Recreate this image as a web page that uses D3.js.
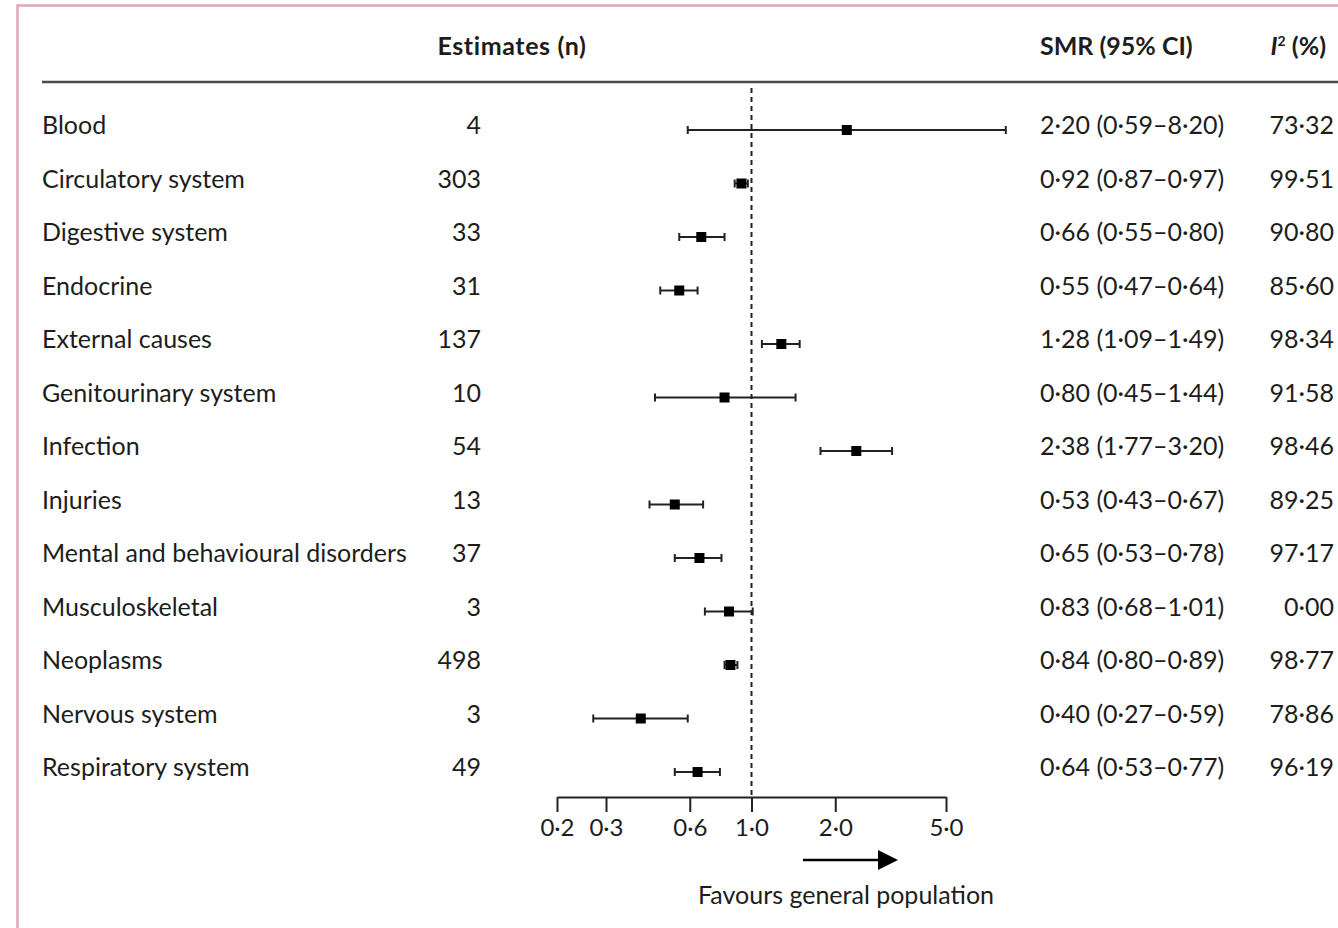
<!DOCTYPE html>
<html><head><meta charset="utf-8">
<script src="https://cdn.jsdelivr.net/npm/d3@7"></script>
<style>html,body{margin:0;padding:0;background:#fff;}svg{display:block;}</style>
</head><body>
<script>
const categories = ["Blood","Circulatory system","Digestive system","Endocrine","External causes","Genitourinary system","Infection","Injuries","Mental and behavioural disorders","Musculoskeletal","Neoplasms","Nervous system","Respiratory system"];
const estimatesN = [4,303,33,31,137,10,54,13,37,3,498,3,49];
const smr = [2.20,0.92,0.66,0.55,1.28,0.80,2.38,0.53,0.65,0.83,0.84,0.40,0.64];
const ciLow = [0.59,0.87,0.55,0.47,1.09,0.45,1.77,0.43,0.53,0.68,0.80,0.27,0.53];
const ciHigh = [8.20,0.97,0.80,0.64,1.49,1.44,3.20,0.67,0.78,1.01,0.89,0.59,0.77];
const i2 = [73.32,99.51,90.80,85.60,98.34,91.58,98.46,89.25,97.17,0.00,98.77,78.86,96.19];
const tickValues = [0.2,0.3,0.6,1.0,2.0,5.0];

const W = 1338, H = 928;
const FONT = "Lato, 'Open Sans', sans-serif";
const ink = "#1d1d1b";
const fmt = v => v.toFixed(2).replace(".", "\u00B7");
const fmt1 = v => v.toFixed(1).replace(".", "\u00B7");

const svg = d3.select("body").append("svg").attr("width", W).attr("height", H);

// frame
svg.append("path").attr("d", `M17.5,${H} V5.5 H${W}`).attr("fill","none").attr("stroke","#e3a5b7").attr("stroke-width",2.5);

const x = d3.scaleLog().domain([0.2, 5]).range([557, 946]);
const y = d3.scaleBand().domain(categories).range([103.25, 798.75]);
const yc = c => y(c) + y.bandwidth()/2;

// header
const hdr = svg.append("g").attr("font-family", FONT).attr("font-weight", 700).attr("font-size", 25).attr("fill", ink);
hdr.append("text").attr("x", 512).attr("y", 55).attr("text-anchor","middle").attr("letter-spacing", 0.6).text("Estimates (n)");
hdr.append("text").attr("x", 1040).attr("y", 55).text("SMR (95% CI)");
const ih = hdr.append("text").attr("x", 1326).attr("y", 55).attr("text-anchor","end");
ih.append("tspan").attr("font-style","italic").text("I");
ih.append("tspan").attr("font-size",14).attr("dy",-9).text("2");
ih.append("tspan").attr("dy",9).text(" (%)");

svg.append("line").attr("x1",42).attr("x2",W).attr("y1",82).attr("y2",82).attr("stroke","#4a4a4a").attr("stroke-width",2.5);

// reference line
svg.append("line").attr("x1", x(1)).attr("x2", x(1)).attr("y1", 88).attr("y2", 797)
  .attr("stroke", "#222").attr("stroke-width", 2).attr("stroke-dasharray", "5,4");

// rows text
const rows = svg.append("g").attr("font-family", FONT).attr("font-size", 25).attr("fill", ink);
categories.forEach((c, i) => {
  const yy = yc(c) + 4;
  rows.append("text").attr("x", 42).attr("y", yy).text(c);
  rows.append("text").attr("x", 481).attr("y", yy).attr("text-anchor","end").text(estimatesN[i]);
  rows.append("text").attr("x", 1040).attr("y", yy).text(`${fmt(smr[i])} (${fmt(ciLow[i])}\u2013${fmt(ciHigh[i])})`);
  rows.append("text").attr("x", 1334).attr("y", yy).attr("text-anchor","end").text(fmt(i2[i]));
});

// CI lines
const marks = svg.append("g");
categories.forEach((c, i) => {
  const yy = yc(c);
  marks.append("line").attr("x1", x(ciLow[i])).attr("x2", x(ciHigh[i])).attr("y1", yy).attr("y2", yy).attr("stroke","#222").attr("stroke-width",2);
  [ciLow[i], ciHigh[i]].forEach(v => {
    marks.append("line").attr("x1", x(v)).attr("x2", x(v)).attr("y1", yy-4).attr("y2", yy+4).attr("stroke","#222").attr("stroke-width",2);
  });
  marks.append("rect").attr("x", x(smr[i]) - 5).attr("y", yy - 5).attr("width", 10).attr("height", 10).attr("fill", "#000");
});

// axis
const axis = d3.axisBottom(x).tickValues(tickValues).tickFormat(fmt1).tickSize(15).tickSizeOuter(0);
const ag = svg.append("g").attr("transform","translate(0,797)").call(axis);
ag.select(".domain").attr("stroke","#222").attr("stroke-width",2);
ag.selectAll(".tick line").attr("stroke","#222").attr("stroke-width",2);
ag.selectAll(".tick text").attr("font-family", FONT).attr("font-size", 24).attr("fill", ink).attr("dy", 0).attr("y", 39);

// arrow
svg.append("line").attr("x1", 803).attr("x2", 880).attr("y1", 860).attr("y2", 860).attr("stroke","#000").attr("stroke-width",2.5);
svg.append("path").attr("d", "M878,850 L898,860 L878,870 Z").attr("fill","#000");
svg.append("text").attr("x", 846).attr("y", 904).attr("text-anchor","middle").attr("font-family", FONT).attr("font-size", 25).attr("fill", ink).text("Favours general population");
</script>
</body></html>
